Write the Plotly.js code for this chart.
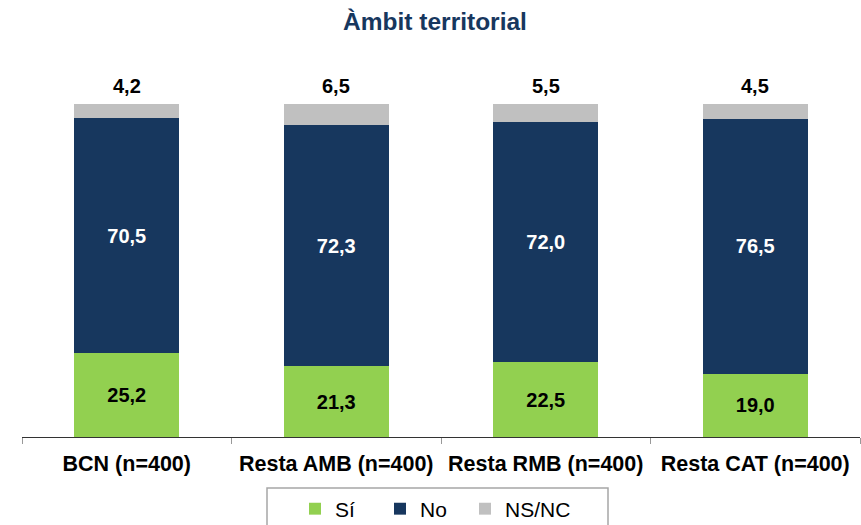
<!DOCTYPE html>
<html>
<head>
<meta charset="utf-8">
<script src="https://cdn.plot.ly/plotly-3.0.1.min.js"></script>
<style>html,body{margin:0;padding:0;background:#fff;}#chart{width:861px;height:525px;}</style>
</head>
<body>
<div id="chart"></div>
<script>
const categories = ["BCN (n=400)", "Resta AMB (n=400)", "Resta RMB (n=400)", "Resta CAT (n=400)"];
const si = [25.2, 21.3, 22.5, 19.0];
const no = [70.5, 72.3, 72.0, 76.5];
const nsnc = [4.2, 6.5, 5.5, 4.5];
const seriesNames = ["Sí", "No", "NS/NC"];

const FONT = "Liberation Sans, Arial, sans-serif";
const common = {
  type: "bar",
  x: categories,
  texttemplate: "%{y:.1f}",
  textangle: 0,
  constraintext: "none",
  hoverinfo: "skip",
  cliponaxis: false
};

const traces = [
  Object.assign({}, common, {
    name: seriesNames[0], y: si,
    marker: {color: "#92d050"},
    textposition: "inside", insidetextanchor: "middle",
    textfont: {family: FONT, size: 20, color: "#000", weight: "bold"}
  }),
  Object.assign({}, common, {
    name: seriesNames[1], y: no,
    marker: {color: "#17375e"},
    textposition: "inside", insidetextanchor: "middle",
    textfont: {family: FONT, size: 20, color: "#fff", weight: "bold"}
  }),
  Object.assign({}, common, {
    name: seriesNames[2], y: nsnc,
    marker: {color: "#c0c0c0"},
    textposition: "none"
  }),
  {
    // invisible zero-height spacer so the last legend label is not clipped
    type: "bar", x: [categories[0]], y: [0], name: " ",
    marker: {color: "rgba(0,0,0,0)", line: {width: 0}}, hoverinfo: "skip",
    textposition: "none"
  }
];

const fmt = v => v.toFixed(1).replace(".", ",");
const topLabels = categories.map((c, i) => ({
  x: c, y: si[i] + no[i] + nsnc[i], xref: "x", yref: "y",
  text: fmt(nsnc[i]), showarrow: false,
  yanchor: "bottom", yshift: 5,
  font: {family: FONT, size: 20, color: "#000", weight: "bold"}
}));

const L = 22, R = 1, T = 103, B = 88;
const pw = 861 - L - R, ph = 525 - T - B;
const px = v => (v - L) / pw;
const py = v => (525 - B - v) / ph;

const layout = {
  width: 861, height: 525,
  margin: {l: L, r: R, t: T, b: B, pad: 0, autoexpand: false},
  paper_bgcolor: "#fff", plot_bgcolor: "#fff",
  barmode: "stack",
  bargap: 0.5,
  separators: ",.",
  font: {family: FONT, color: "#000"},
  title: {
    text: "Àmbit territorial",
    font: {family: FONT, size: 24.5, color: "#17375e", weight: "bold"},
    x: px(435), xref: "paper", xanchor: "center",
    y: 1 - 21 / 525, yref: "container", yanchor: "middle"
  },
  xaxis: {
    type: "category",
    showline: true, linecolor: "#333", linewidth: 1,
    ticks: "outside", tickson: "boundaries", ticklen: 6, tickcolor: "#999", tickwidth: 1,
    showgrid: false, zeroline: false,
    ticklabelstandoff: 7,
    tickfont: {family: FONT, size: 21.5, color: "#000", weight: "bold"},
    fixedrange: true
  },
  yaxis: {
    range: [0, 100.3], visible: false, fixedrange: true
  },
  annotations: topLabels,
  showlegend: true,
  legend: {
    orientation: "h",
    x: px(295), xanchor: "left", xref: "paper",
    y: py(509), yanchor: "middle",
    font: {family: FONT, size: 21, color: "#000"},
    entrywidth: 40, entrywidthmode: "pixels",
    bgcolor: "rgba(0,0,0,0)", borderwidth: 0,
    traceorder: "normal"
  },
  shapes: [{
    type: "rect", xref: "paper", yref: "paper",
    x0: px(267), x1: px(608), y0: py(488), y1: py(532),
    line: {color: "#a6a6a6", width: 1.5}, fillcolor: "rgba(0,0,0,0)", layer: "below"
  }]
};

Plotly.newPlot("chart", traces, layout, {displayModeBar: false, staticPlot: true});
</script>
</body>
</html>
